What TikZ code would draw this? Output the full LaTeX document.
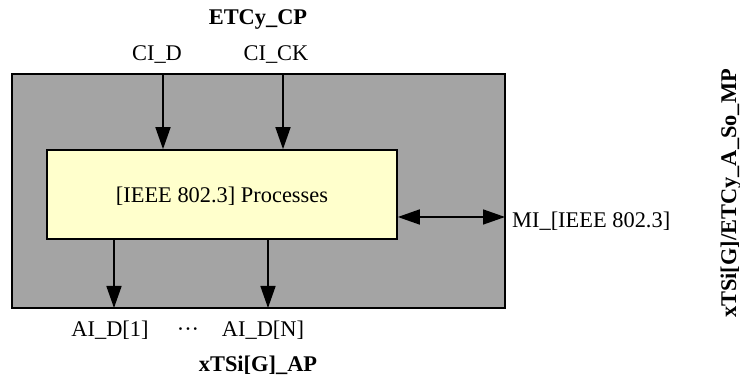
\documentclass[tikz,border=0pt]{standalone}
\usepackage{fontspec}
\setmainfont{Liberation Serif}
\usetikzlibrary{arrows.meta}

\begin{document}
\begin{tikzpicture}[x=1pt, y=1pt,
    sig/.style={line width=1.6pt, -{Triangle[width=15pt, length=22pt]}},
    lbl/.style={font=\fontsize{22.4}{26}\selectfont, inner sep=0pt},
    title/.style={lbl, font=\fontsize{22.4}{26}\selectfont\bfseries}]
  \useasboundingbox (0, 0) rectangle (740, 380);

  \node[draw, line width=1.3pt, fill={rgb,255:red,164;green,164;blue,164},
        minimum width=493pt, minimum height=234pt, inner sep=0pt]
        (cp) at (258.5, 189) {};
  \node[draw, line width=1.6pt, fill={rgb,255:red,255;green,255;blue,204},
        minimum width=350pt, minimum height=89pt, inner sep=0pt]
        (proc) at (222, 185.5) {};
  \node[lbl, anchor=base] (procname) at (222, 177) {[IEEE 802.3] Processes};

  \coordinate (D)  at (163, 306);   % CI_D
  \coordinate (CK) at (283, 306);   % CI_CK
  \coordinate (A1) at (114, 72);    % AI_D[1]
  \coordinate (AN) at (268, 72);    % AI_D[N]
  \coordinate (M)  at (505, 163);   % MI

  \draw[sig] (D) -- (D |- proc.north);
  \draw[sig] (CK) -- (CK |- proc.north);
  \draw[sig] (A1 |- proc.south) -- (A1);
  \draw[sig] (AN |- proc.south) -- (AN);
  \draw[sig, {Triangle[width=15pt, length=22pt]}-{Triangle[width=15pt, length=22pt]}]
    (proc.east |- M) -- (M);

  \node[title, anchor=base] (cptitle) at (258, 355) {ETCy\_CP};
  \node[lbl, anchor=base]   (cid)  at (157, 319) {CI\_D};
  \node[lbl, anchor=base]   (cick) at (276, 319) {CI\_CK};
  \node[lbl, anchor=base]   (aid1) at (110, 43.3) {AI\_D[1]};
  \node[lbl, anchor=base]   (dots) at (188, 43.3) {···};
  \node[lbl, anchor=base]   (aidn) at (263, 43.3) {AI\_D[N]};
  \node[title, anchor=base] (aptitle) at (258, 8.3) {xTSi[G]\_AP};
  \node[lbl, anchor=base west] (mi) at (512, 152) {MI\_[IEEE 802.3]};
  \node[title, anchor=base, rotate=90] (mptitle) at (736, 186.5)
    {xTSi[G]/ETCy\_A\_So\_MP};
\end{tikzpicture}
\end{document}
